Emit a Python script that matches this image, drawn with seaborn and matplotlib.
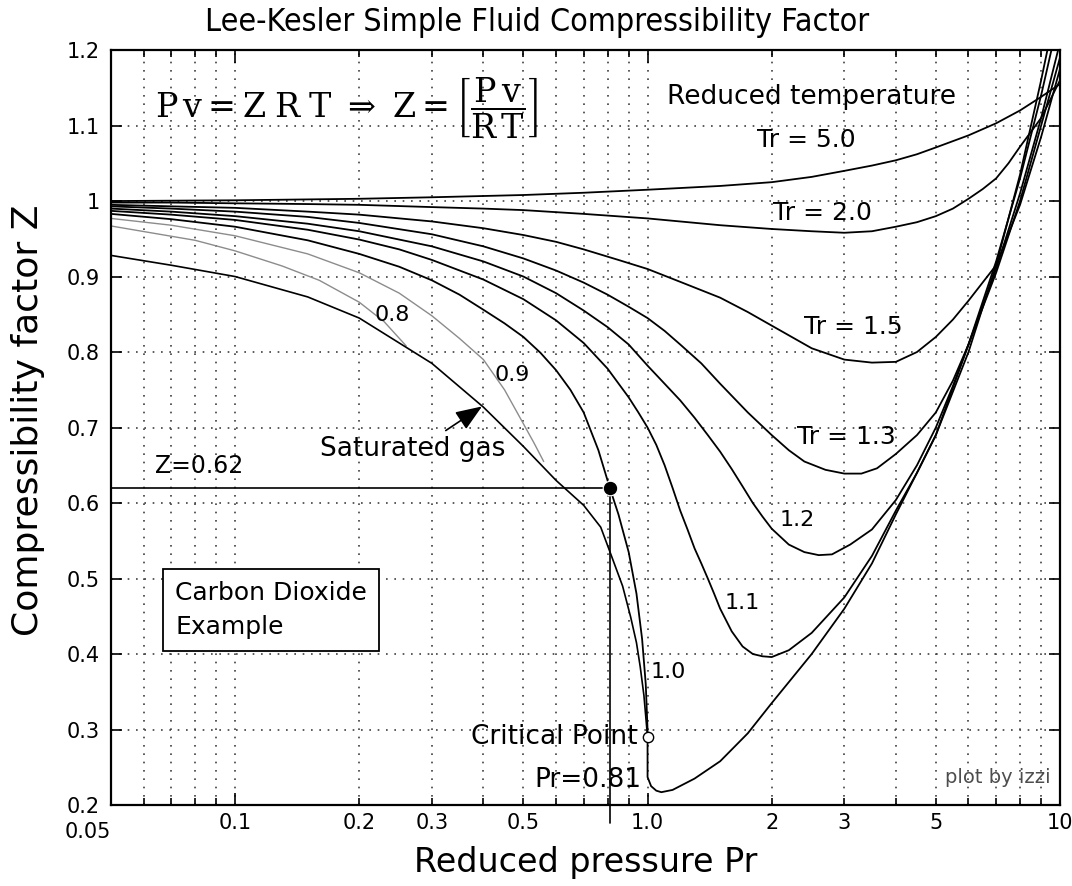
import matplotlib
matplotlib.use("Agg")
import numpy as np
import pandas as pd
import matplotlib.pyplot as plt
from matplotlib.ticker import FixedLocator, FixedFormatter
import seaborn as sns

sns.set_style("ticks")
plt.rcParams["font.family"] = ["DejaVu Sans"]
plt.rcParams["mathtext.fontset"] = "dejavuserif"
plt.rcParams["text.color"] = "black"
plt.rcParams["axes.labelcolor"] = "black"
plt.rcParams["xtick.color"] = "black"
plt.rcParams["ytick.color"] = "black"

# isotherms: reduced pressure Pr -> Z
pr_tr50 = [0.05, 0.1, 0.2, 0.3, 0.5, 0.7, 1, 1.5, 2, 2.5, 3, 3.5, 4, 4.5, 5,
           6, 7, 8, 9, 10]
z_tr50 = [1.000, 1.001, 1.003, 1.005, 1.008, 1.011, 1.015, 1.020, 1.025,
          1.032, 1.040, 1.047, 1.054, 1.062, 1.071, 1.087, 1.103, 1.120,
          1.138, 1.155]

pr_tr20 = [0.05, 0.07, 0.1, 0.15, 0.2, 0.3, 0.4, 0.5, 0.7, 1.0, 1.5, 2, 2.5,
           3, 3.5, 4, 4.5, 5, 5.5, 6, 6.5, 7, 7.5, 8, 9, 10]
z_tr20 = [0.998, 0.998, 0.997, 0.996, 0.995, 0.992, 0.990, 0.988, 0.983,
          0.977, 0.968, 0.963, 0.960, 0.958, 0.960, 0.966, 0.972, 0.980,
          0.990, 1.003, 1.016, 1.030, 1.050, 1.072, 1.110, 1.160]

pr_tr15 = [0.05, 0.07, 0.1, 0.15, 0.2, 0.3, 0.4, 0.5, 0.6, 0.7, 0.85, 1.0,
           1.2, 1.5, 1.75, 2, 2.5, 3, 3.5, 4, 4.5, 5, 5.5, 6, 7, 8, 9, 10]
z_tr15 = [0.995, 0.993, 0.991, 0.986, 0.982, 0.973, 0.964, 0.955, 0.946,
          0.936, 0.922, 0.910, 0.893, 0.872, 0.853, 0.835, 0.805, 0.790,
          0.786, 0.787, 0.800, 0.820, 0.843, 0.868, 0.915, 0.995, 1.085,
          1.175]

pr_tr13 = [0.05, 0.07, 0.1, 0.15, 0.2, 0.3, 0.4, 0.5, 0.6, 0.7, 0.8, 0.9,
           1.0, 1.1, 1.2, 1.35, 1.5, 1.75, 2, 2.2, 2.4, 2.7, 3.0, 3.3, 3.6,
           4, 4.5, 5, 5.5, 6, 7, 8, 9, 10]
z_tr13 = [0.993, 0.990, 0.986, 0.979, 0.971, 0.956, 0.940, 0.924, 0.908,
          0.892, 0.876, 0.860, 0.845, 0.828, 0.810, 0.785, 0.758, 0.720,
          0.690, 0.670, 0.655, 0.644, 0.639, 0.639, 0.646, 0.665, 0.690,
          0.720, 0.762, 0.810, 0.905, 1.000, 1.100, 1.190]

pr_tr12 = [0.05, 0.07, 0.1, 0.15, 0.2, 0.3, 0.4, 0.5, 0.6, 0.7, 0.8, 0.9,
           1.0, 1.1, 1.2, 1.3, 1.4, 1.5, 1.6, 1.7, 1.8, 1.9, 2.0, 2.2, 2.4,
           2.6, 2.8, 3.1, 3.5, 4, 4.5, 5, 5.5, 6, 7, 8, 9, 10]
z_tr12 = [0.990, 0.986, 0.980, 0.970, 0.960, 0.940, 0.920, 0.900, 0.878,
          0.855, 0.833, 0.810, 0.782, 0.758, 0.736, 0.713, 0.690, 0.668,
          0.645, 0.622, 0.600, 0.582, 0.566, 0.545, 0.535, 0.531, 0.532,
          0.545, 0.565, 0.604, 0.650, 0.700, 0.755, 0.810, 0.910, 1.010,
          1.110, 1.210]

pr_tr11 = [0.05, 0.07, 0.1, 0.15, 0.2, 0.25, 0.3, 0.4, 0.5, 0.6, 0.7, 0.8,
           0.9, 0.95, 1.0, 1.05, 1.1, 1.15, 1.2, 1.25, 1.3, 1.35, 1.4, 1.45,
           1.5, 1.6, 1.7, 1.8, 1.9, 2.0, 2.2, 2.5, 3.0, 3.5, 4, 4.5, 5, 6, 7,
           8, 9, 10]
z_tr11 = [0.987, 0.982, 0.975, 0.962, 0.949, 0.936, 0.922, 0.896, 0.870,
          0.842, 0.812, 0.778, 0.740, 0.720, 0.700, 0.677, 0.650, 0.620,
          0.590, 0.565, 0.540, 0.520, 0.500, 0.480, 0.460, 0.430, 0.410,
          0.400, 0.397, 0.396, 0.405, 0.428, 0.475, 0.530, 0.590, 0.640,
          0.690, 0.810, 0.920, 1.030, 1.140, 1.250]

pr_tr10 = [0.05, 0.07, 0.1, 0.15, 0.2, 0.25, 0.3, 0.35, 0.4, 0.45, 0.5, 0.55,
           0.6, 0.65, 0.7, 0.76, 0.81, 0.85, 0.9, 0.94, 0.97, 0.99, 1.0, 1.0,
           1.02, 1.05, 1.08, 1.15, 1.3, 1.5, 1.75, 2.0, 2.5, 3.0, 3.5, 4,
           4.5, 5, 6, 7, 8, 9, 10]
z_tr10 = [0.983, 0.976, 0.966, 0.948, 0.930, 0.913, 0.895, 0.876, 0.856,
          0.838, 0.820, 0.799, 0.776, 0.750, 0.720, 0.670, 0.620, 0.585,
          0.535, 0.480, 0.420, 0.360, 0.300, 0.237, 0.225, 0.219, 0.217,
          0.220, 0.235, 0.258, 0.295, 0.335, 0.400, 0.460, 0.520, 0.585,
          0.640, 0.690, 0.800, 0.915, 1.035, 1.160, 1.280]

pr_tr09 = [0.05, 0.07, 0.1, 0.15, 0.2, 0.25, 0.3, 0.35, 0.4, 0.45, 0.5, 0.53,
           0.56]
z_tr09 = [0.977, 0.968, 0.954, 0.930, 0.905, 0.878, 0.848, 0.818, 0.790,
          0.750, 0.705, 0.680, 0.655]

pr_tr08 = [0.05, 0.08, 0.1, 0.13, 0.16, 0.2, 0.23, 0.26]
z_tr08 = [0.967, 0.948, 0.934, 0.914, 0.895, 0.866, 0.840, 0.808]

pr_sat = [0.05, 0.07, 0.1, 0.15, 0.2, 0.25, 0.3, 0.4, 0.5, 0.6, 0.7, 0.77,
          0.82, 0.87, 0.91, 0.94, 0.96, 0.98, 1.0]
z_sat = [0.928, 0.915, 0.900, 0.873, 0.845, 0.812, 0.785, 0.727, 0.675,
         0.630, 0.597, 0.568, 0.528, 0.490, 0.449, 0.415, 0.383, 0.345, 0.290]

# CO2 example and critical point
co2_pr, co2_z = 0.81, 0.62
crit_pr, crit_z = 1.0, 0.29

# axis ticks
x_major = [0.1, 1.0, 10]
x_major_lbl = ["0.1", "1.0", "10"]
x_minor = [0.05, 0.06, 0.07, 0.08, 0.09, 0.2, 0.3, 0.4, 0.5, 0.6, 0.7, 0.8,
           0.9, 2, 3, 4, 5, 6, 7, 8, 9]
x_minor_lbl = ["", "", "", "", "", "0.2", "0.3", "", "0.5", "", "", "",
               "", "2", "3", "", "5", "", "", "", ""]
x_edge, x_edge_lbl = 0.05, "0.05"
y_ticks = [0.2, 0.3, 0.4, 0.5, 0.6, 0.7, 0.8, 0.9, 1.0, 1.1, 1.2]
y_tick_lbl = ["0.2", "0.3", "0.4", "0.5", "0.6", "0.7", "0.8", "0.9", "1",
              "1.1", "1.2"]

curves = [
    ("5.0", pr_tr50, z_tr50, "black", 1.3),
    ("2.0", pr_tr20, z_tr20, "black", 1.3),
    ("1.5", pr_tr15, z_tr15, "black", 1.3),
    ("1.3", pr_tr13, z_tr13, "black", 1.3),
    ("1.2", pr_tr12, z_tr12, "black", 1.3),
    ("1.1", pr_tr11, z_tr11, "black", 1.3),
    ("1.0", pr_tr10, z_tr10, "black", 1.3),
    ("0.9", pr_tr09, z_tr09, "0.55", 1.0),
    ("0.8", pr_tr08, z_tr08, "0.55", 1.0),
    ("sat", pr_sat, z_sat, "black", 1.2),
]
df = pd.concat(
    [pd.DataFrame({"Pr": p, "Z": z, "Tr": name}) for name, p, z, _, _ in curves]
)

fig = plt.figure(figsize=(10.72, 8.86), dpi=100)
ax = fig.add_axes([0.1035, 0.0914, 0.8853, 0.8521])
ax.set_xscale("log")

for name, _, _, color, lw in curves:
    sns.lineplot(
        data=df[df["Tr"] == name], x="Pr", y="Z", sort=False, estimator=None,
        color=color, lw=lw, ax=ax, legend=False,
    )

# Z=0.62 / Pr=0.81 guide lines
ax.plot([0.05, co2_pr], [co2_z, co2_z], color="black", lw=1.2)
ax.plot([co2_pr, co2_pr], [co2_z, 0.176], color="black", lw=1.2, clip_on=False)
sns.scatterplot(x=[co2_pr], y=[co2_z], s=110, color="black", ax=ax, zorder=5)
sns.scatterplot(x=[crit_pr], y=[crit_z], s=55, color="white",
                edgecolor="black", linewidth=1.0, ax=ax, zorder=5)

ax.set_xlim(0.05, 10)
ax.set_ylim(0.2, 1.2)

ax.xaxis.set_major_locator(FixedLocator(x_major))
ax.xaxis.set_major_formatter(FixedFormatter(x_major_lbl))
ax.xaxis.set_minor_locator(FixedLocator(x_minor))
ax.xaxis.set_minor_formatter(FixedFormatter(x_minor_lbl))
ax.yaxis.set_major_locator(FixedLocator(y_ticks))
ax.yaxis.set_major_formatter(FixedFormatter(y_tick_lbl))

ax.tick_params(axis="both", which="both", direction="in", top=True,
               right=True, labelsize=15, width=1.2, color="black",
               labelcolor="black")
ax.tick_params(axis="x", which="major", length=9, pad=6)
ax.tick_params(axis="x", which="minor", length=5, pad=6)
ax.tick_params(axis="y", which="major", length=8, pad=8)

# leftmost x label sits down and left of the corner in the original
ax.annotate(x_edge_lbl, xy=(x_edge, 0), xycoords=("data", "axes fraction"),
            xytext=(-17, -19.5), textcoords="offset points", fontsize=15,
            ha="center", va="center")

grid_kw = dict(color="0.25", linestyle=(0, (1, 4)), linewidth=1.2)
ax.grid(True, which="both", axis="x", **grid_kw)
ax.grid(True, which="major", axis="y", **grid_kw)
for sp in ax.spines.values():
    sp.set_linewidth(1.6)
    sp.set_color("black")

ax.set_xlabel("Reduced pressure Pr", fontsize=24)
ax.set_ylabel("Compressibility factor Z", fontsize=26)
ax.xaxis.set_label_coords(0.5, -0.054)
ax.yaxis.set_label_coords(-0.07, 0.51)
fig.text(537 / 1072, 1 - 22 / 886,
         "Lee-Kesler Simple Fluid Compressibility Factor",
         ha="center", va="center", fontsize=23, fontstretch="condensed")

# annotations
ax.text(0.064, 1.124,
        r"$\mathrm{P\,v = Z\;R\;T}\ \Rightarrow\ \mathrm{Z} = "
        r"\left[\dfrac{\mathrm{P\,v}}{\mathrm{R\,T}}\right]$",
        fontsize=24, va="center", ha="left")
ax.text(2.5, 1.138, "Reduced temperature", fontsize=19, ha="center",
        va="center")
ax.text(2.42, 1.081, "Tr = 5.0", fontsize=18, ha="center", va="center")
ax.text(2.66, 0.984, "Tr = 2.0", fontsize=18, ha="center", va="center")
ax.text(3.15, 0.833, "Tr = 1.5", fontsize=18, ha="center", va="center")
ax.text(3.03, 0.687, "Tr = 1.3", fontsize=18, ha="center", va="center")
ax.text(2.30, 0.577, "1.2", fontsize=16, ha="center", va="center")
ax.text(1.70, 0.468, "1.1", fontsize=16, ha="center", va="center")
ax.text(1.12, 0.376, "1.0", fontsize=16, ha="center", va="center")
ax.text(0.47, 0.770, "0.9", fontsize=16, ha="center", va="center")
ax.text(0.24, 0.849, "0.8", fontsize=16, ha="center", va="center")
ax.text(0.269, 0.672, "Saturated gas", fontsize=19, ha="center", va="center")
ax.annotate("", xy=(0.402, 0.730), xytext=(0.32, 0.694),
            arrowprops=dict(arrowstyle="-|>,head_length=0.9,head_width=0.35",
                            color="black", lw=1.2, mutation_scale=18))
ax.text(0.064, 0.649, "Z=0.62", fontsize=17, ha="left", va="center")
ax.text(0.595, 0.29, "Critical Point", fontsize=19, ha="center", va="center")
ax.text(0.965, 0.233, "Pr=0.81", fontsize=19, ha="right", va="center")
ax.text(0.0715, 0.458, "Carbon Dioxide\nExample", fontsize=18, ha="left",
        va="center", linespacing=1.5,
        bbox=dict(boxstyle="square,pad=0.5", facecolor="white",
                  edgecolor="black", linewidth=1.3))
ax.text(9.5, 0.236, "plot by izzi", fontsize=14, ha="right", va="center",
        color="0.3")

fig.savefig("out.png", dpi=100)
